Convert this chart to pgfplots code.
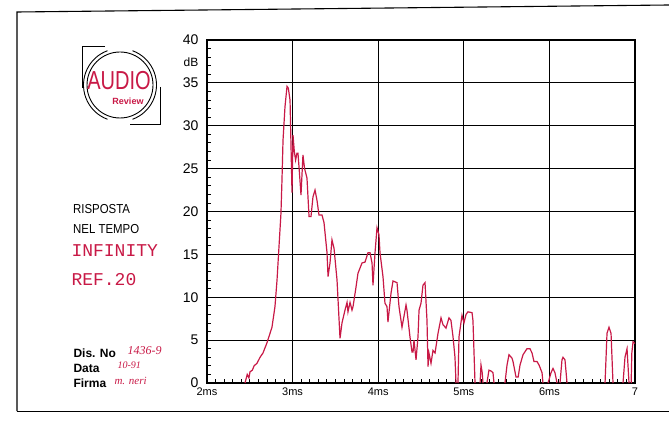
\documentclass[border=0pt]{standalone}
\usepackage{pgfplots}
\pgfplotsset{compat=1.18}
\usepackage{fontspec}
\setmainfont{Liberation Sans}
\newfontfamily\monof{Liberation Mono}
\newfontfamily\handf{Liberation Serif}
\definecolor{crim}{RGB}{200,25,70}
\begin{document}
\begin{tikzpicture}[x=1pt,y=1pt]
\useasboundingbox (0,0) rectangle (669,426);
% outer frame
\draw[line width=1.1pt] (17,15) -- (17,414) -- (669,421);
\draw[line width=0.8pt] (17,15) -- (669,15);
% logo
\draw[line width=0.9pt] (120,341) circle (33);
\draw[line width=0.9pt] (120,341) ++(110:36.5) arc (110:250:36.5);
\draw[line width=0.9pt] (120,341) ++(-70:36.5) arc (-70:70:36.5);
\draw[line width=1pt] (105,379) -- (82,379) -- (82,338);
\draw[line width=1pt] (160,339) -- (160,301) -- (130,301);
\node[text=crim, font=\fontsize{26}{28}\selectfont, xscale=0.77] at (119,345) {AUDIO};
\node[text=crim, font=\fontsize{9}{10}\selectfont\bfseries] at (128,325) {Review};
% left texts
\node[anchor=base west, font=\fontsize{13}{14}\selectfont, xscale=0.88] at (70,212) {RISPOSTA};
\node[anchor=base west, font=\fontsize{13}{14}\selectfont, xscale=0.88] at (70,192) {NEL TEMPO};
\node[anchor=base west, text=crim, font=\monof\fontsize{18}{20}\selectfont] at (68,169) {INFINITY};
\node[anchor=base west, text=crim, font=\monof\fontsize{18}{20}\selectfont] at (68,140) {REF.20};
\node[anchor=base west, font=\fontsize{12}{13}\selectfont\bfseries] at (70,69) {Dis. No};
\node[anchor=base west, font=\fontsize{12}{13}\selectfont\bfseries] at (70,54) {Data};
\node[anchor=base west, font=\fontsize{12}{13}\selectfont\bfseries] at (70,39) {Firma};
\node[anchor=base west, text=crim, font=\handf\itshape\fontsize{12}{13}\selectfont] at (124,72) {1436-9};
\node[anchor=base west, text=crim, font=\handf\itshape\fontsize{10}{11}\selectfont] at (114,58) {10-91};
\node[anchor=base west, text=crim, font=\handf\itshape\fontsize{11}{12}\selectfont] at (111,42) {m. neri};
\node[font=\fontsize{12}{13}\selectfont] at (191,364) {dB};
\begin{axis}[
  at={(207pt,43pt)}, anchor=south west,
  scale only axis, width=428pt, height=343pt,
  xmin=2, xmax=7, ymin=0, ymax=40,
  xtick={2,3,4,5,6,7},
  xticklabels={2ms,3ms,4ms,5ms,6ms,7},
  ytick={0,5,...,40},
  minor x tick num=9, minor y tick num=4,
  tick align=inside, tick pos=left,
  major tick length=4pt, minor tick length=4pt,
  every tick/.style={black, line width=0.8pt},
  grid=major,
  major grid style={black, line width=1.1pt},
  axis line style={line width=1.2pt},
  /pgf/number format/assume math mode=true,
  yticklabel style={font=\fontsize{14}{15}\selectfont, xshift=-5pt},
  xticklabel style={font=\fontsize{11}{12}\selectfont, yshift=-1pt},
  unbounded coords=jump,
]
\addplot[crim, line width=1.2pt] coordinates {
(2.444,0) (2.47,1.0) (2.49,0.6) (2.502,1.3) (2.53,1.5) (2.55,2.0) (2.584,2.3) (2.62,3.0) (2.654,3.5) (2.701,4.7) (2.759,6.5) (2.794,8.9) (2.818,12) (2.841,15.9) (2.864,19.8) (2.876,23.7) (2.888,28.3) (2.911,32.2) (2.935,34.6) (2.950,34.4) (2.970,33) (2.993,22.2) (3.005,28.9) (3.020,27.0) (3.035,26.0) (3.051,26.8) (3.063,26.8) (3.08,24.5) (3.098,21.9) (3.121,26.6) (3.140,25.0) (3.168,23.9) (3.192,19.4) (3.215,19.4) (3.238,21.7) (3.262,22.5) (3.285,21.3) (3.308,19.6) (3.343,19.6) (3.367,18.7) (3.402,15.2) (3.414,12.4) (3.437,14) (3.460,16.7) (3.484,15.7) (3.519,12) (3.554,5.2) (3.577,7) (3.612,8.5) (3.636,9.4) (3.647,8.3) (3.671,9.4) (3.694,8.5) (3.706,8.9) (3.741,11.2) (3.764,12.8) (3.811,14) (3.846,14.1) (3.881,15.2) (3.904,15.2) (3.928,14) (3.939,11.4) (3.963,15.2) (3.986,18.1) (4.009,17.3) (4.021,15.2) (4.056,12.4) (4.079,9.3) (4.103,8.9) (4.114,7.1) (4.150,10.5) (4.173,11.9) (4.196,11.8) (4.220,11.7) (4.243,8.9) (4.278,6.5) (4.325,9.1) (4.336,8.5) (4.371,5.4) (4.395,3.6) (4.407,3.6) (4.418,5) (4.442,2.7) (4.465,5.4) (4.477,8.5) (4.500,9.3) (4.523,11.4) (4.547,11.7) (4.570,7.3) (4.582,1.9) (4.593,3.5) (4.617,2.3) (4.640,3.8) (4.664,3.5) (4.699,5.8) (4.734,7.6) (4.757,6.8) (4.792,6.4) (4.827,7.6) (4.850,7.3) (4.874,5.4) (4.897,3) (4.909,0)
(4.92,nan)
(4.932,0) (4.944,5.4) (4.979,7.9) (5.002,7.0) (5.026,8.0) (5.049,8.3) (5.096,8.2) (5.107,7.3) (5.131,0)
(5.15,nan)
(5.19,0) (5.201,2.1) (5.215,1.2) (5.224,0)
(5.25,nan)
(5.27,0) (5.294,1.5) (5.318,1.4) (5.341,1.2) (5.353,0)
(5.4,nan)
(5.481,0) (5.505,2.1) (5.528,3.3) (5.563,2.9) (5.575,2.5) (5.61,0.7) (5.635,0.7) (5.657,2.1) (5.692,3.3) (5.738,4.0) (5.773,4.0) (5.797,3.5) (5.820,2.5) (5.855,2.5) (5.879,2.1) (5.914,1.2) (5.925,0)
(5.95,nan)
(5.984,0) (6.019,1.2) (6.042,1.7) (6.065,1.2) (6.089,0)
(6.1,nan)
(6.124,0) (6.147,2.7) (6.159,3.0) (6.182,2.7) (6.206,0)
(6.4,nan)
(6.650,0) (6.673,5.8) (6.696,6.5) (6.720,5.8) (6.743,0)
(6.8,nan)
(6.860,0) (6.883,3.0) (6.907,4.0) (6.930,0)
(6.94,nan)
(6.955,0) (6.963,3.5) (6.977,4.8) (7.0,4.6)
};
\end{axis}
\end{tikzpicture}
\end{document}
